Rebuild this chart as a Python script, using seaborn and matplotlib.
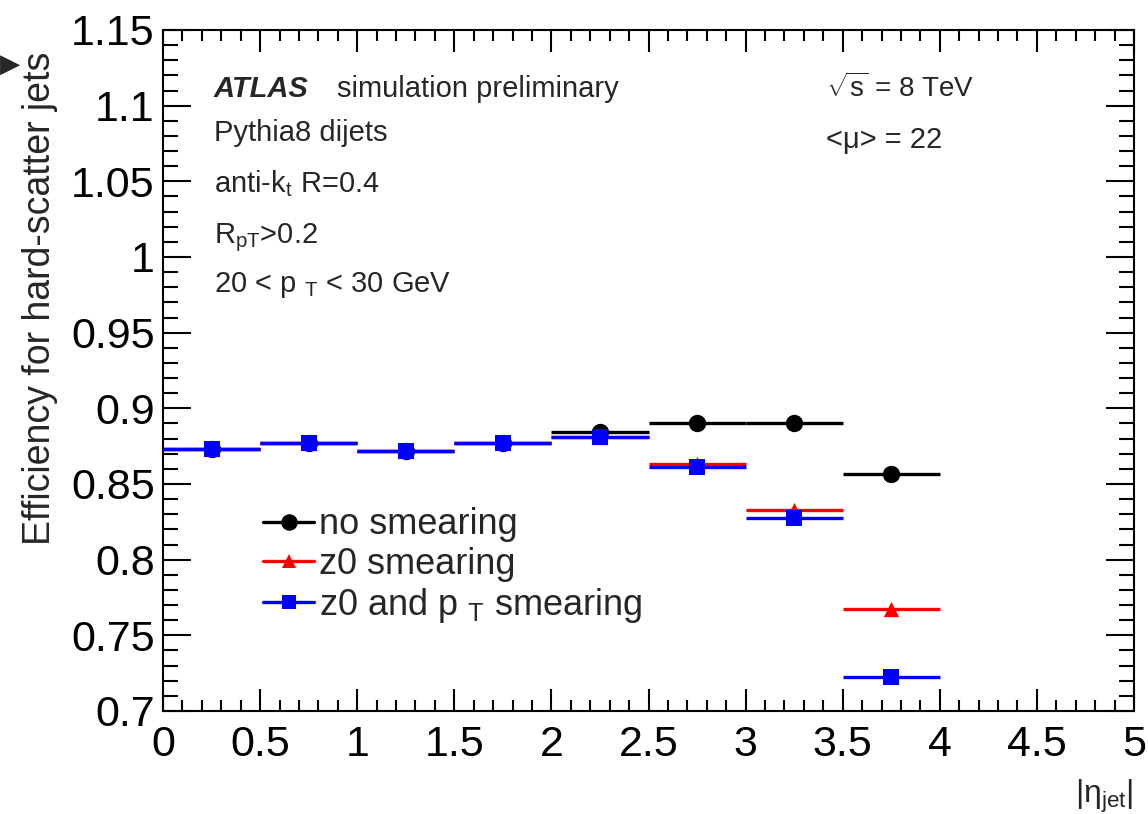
import matplotlib
matplotlib.use("Agg")
import matplotlib.pyplot as plt
import seaborn as sns
import pandas as pd
import numpy as np
from matplotlib.lines import Line2D
from matplotlib.ticker import MultipleLocator, FormatStrFormatter

# ---- data ----
eta_centers = [0.25, 0.75, 1.25, 1.75, 2.25, 2.75, 3.25, 3.75]
eta_halfwidth = [0.25] * 8
no_smearing = [0.8732, 0.8769, 0.8720, 0.8769, 0.8844, 0.8900, 0.8900, 0.8566]
z0_smearing = [0.8732, 0.8769, 0.8720, 0.8769, 0.8809, 0.8630, 0.8327, 0.7672]
z0_pt_smearing = [0.8732, 0.8769, 0.8720, 0.8769, 0.8809, 0.8615, 0.8276, 0.7225]
series_names = ["no smearing", "z0 smearing", "z0 and p $_{\\mathrm{T}}$ smearing"]
x_ticks = [0, 0.5, 1, 1.5, 2, 2.5, 3, 3.5, 4, 4.5, 5]
y_ticks = [0.7, 0.75, 0.8, 0.85, 0.9, 0.95, 1.0, 1.05, 1.1, 1.15]

sns.set_theme(style="ticks")
plt.rcParams["font.family"] = ["Liberation Sans", "DejaVu Sans"]
plt.rcParams["mathtext.fontset"] = "custom"
plt.rcParams["mathtext.rm"] = "Liberation Sans"
plt.rcParams["mathtext.it"] = "Liberation Sans:italic"
plt.rcParams["mathtext.bf"] = "Liberation Sans:bold"

df = pd.DataFrame({
    "eta": eta_centers * 3,
    "xerr": eta_halfwidth * 3,
    "eff": no_smearing + z0_smearing + z0_pt_smearing,
    "series": [series_names[0]] * 8 + [series_names[1]] * 8 + [series_names[2]] * 8,
})

colors = {series_names[0]: "black", series_names[1]: "#ff0000", series_names[2]: "#0000ff"}
markers = {series_names[0]: "o", series_names[1]: "^", series_names[2]: "s"}
msizes = {series_names[0]: 12.5, series_names[1]: 11, series_names[2]: 11}

fig = plt.figure(figsize=(11.48, 8.14), dpi=100)
ax = fig.add_axes([163 / 1148, 1 - 711 / 814, (1134 - 163) / 1148, (711 - 30) / 814])

handles = []
for i, name in enumerate(series_names):
    sub = df[df["series"] == name]
    ax.errorbar(sub["eta"], sub["eff"], xerr=sub["xerr"], fmt="none",
                ecolor=colors[name], elinewidth=2.4, capsize=0, zorder=2 + i)
    sns.scatterplot(data=sub, x="eta", y="eff", ax=ax, color=colors[name],
                    marker=markers[name], s=msizes[name] ** 2, edgecolor=colors[name],
                    linewidth=0, legend=False, zorder=2.5 + i)
    handles.append(Line2D([0], [0], color=colors[name], lw=2.4, marker=markers[name],
                          markersize=msizes[name] * 0.95, markeredgewidth=0))

ax.set_xlim(0, 5)
ax.set_ylim(0.7, 1.15)
ax.set_xlabel("")
ax.set_ylabel("")
ax.set_xticks(x_ticks)
ax.set_yticks(y_ticks)
ax.xaxis.set_major_formatter(FormatStrFormatter("%g"))
ax.yaxis.set_major_formatter(FormatStrFormatter("%g"))
ax.xaxis.set_minor_locator(MultipleLocator(0.1))
ax.yaxis.set_minor_locator(MultipleLocator(0.01))
ax.tick_params(axis="both", which="both", direction="in", top=True, right=True,
               width=1.5, color="black", labelsize=31, labelcolor="black")
ax.tick_params(axis="x", which="major", length=16, pad=10)
ax.tick_params(axis="x", which="minor", length=8)
ax.tick_params(axis="y", which="major", length=20, pad=6)
ax.tick_params(axis="y", which="minor", length=11)
for sp in ax.spines.values():
    sp.set_linewidth(1.5)
    sp.set_color("black")

# axis titles
fig.text(40 / 1148, 1 - 52 / 814, "Efficiency for hard-scatter jets", rotation=90,
         ha="center", va="top", fontsize=27)
fig.text(1133 / 1148, 1 - 796 / 814, "|\u03b7$_{\\mathrm{jet}}$|", ha="right",
         va="center", fontsize=23)
fig.text(0.0, 1 - 65 / 814, "\u25B6", ha="left", va="center", fontsize=19,
         family="DejaVu Sans")

# annotations
def ftext(x, y, s, **kw):
    fig.text(x / 1148, 1 - y / 814, s, ha="left", va="baseline", **kw)

ftext(214, 97, "ATLAS", fontsize=21, fontweight="bold", fontstyle="italic")
ftext(337, 97, "simulation preliminary", fontsize=21)
ftext(214, 141, "Pythia8 dijets", fontsize=21)
ftext(214, 192, "anti-k$_{\\mathrm{t}}$ R=0.4", fontsize=21)
ftext(214, 243, "R$_{\\mathrm{pT}}$>0.2", fontsize=21)
ftext(214, 292, "20 < p $_{\\mathrm{T}}$ < 30 GeV", fontsize=21)
ftext(826, 97, r"$\sqrt{\mathrm{s}}$ = 8 TeV", fontsize=20)
ftext(826, 148, "<\u03bc> = 22", fontsize=21)

leg = ax.legend(handles, series_names, loc="upper left",
                bbox_to_anchor=((249 - 163) / 971, (711 - 493) / 681),
                frameon=False, fontsize=26, handlelength=1.4, handletextpad=0.15,
                labelspacing=0.12, borderaxespad=0)

fig.savefig("out.png", dpi=100)
